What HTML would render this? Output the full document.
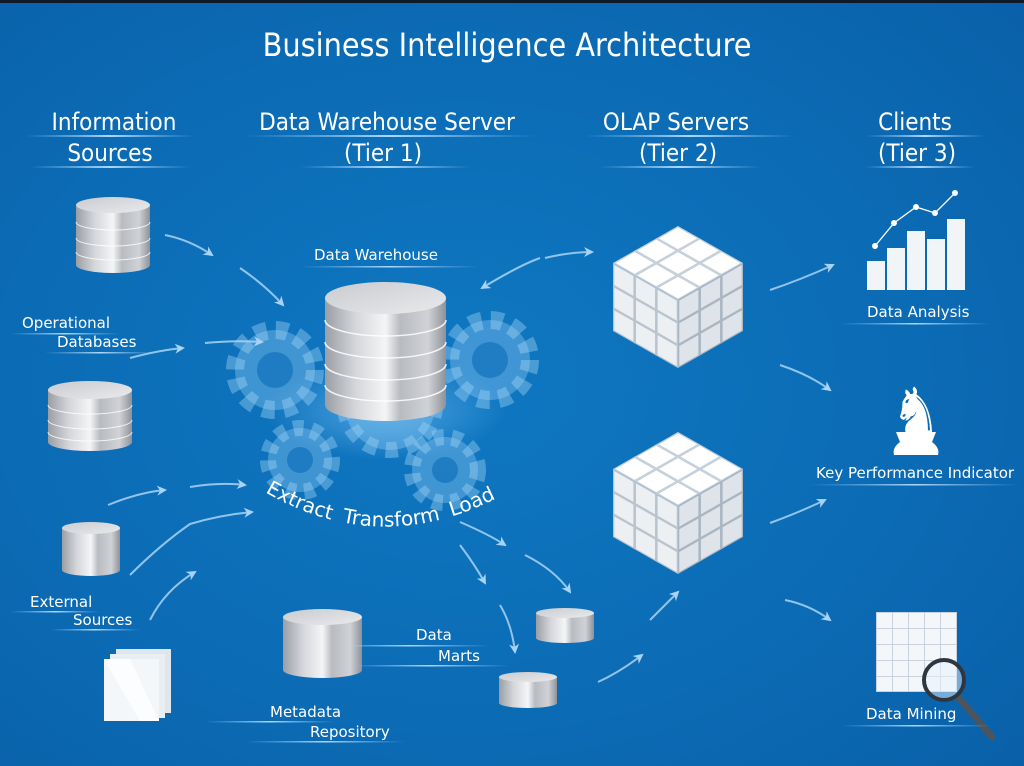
<!DOCTYPE html>
<html><head><meta charset="utf-8"><style>
html,body{margin:0;padding:0;width:1024px;height:766px;overflow:hidden;background:#0a6ab4}
svg{display:block}
text{font-family:"DejaVu Sans Condensed","Liberation Sans",sans-serif;fill:#fff}
.lb text{font-family:"DejaVu Sans","Liberation Sans",sans-serif}
</style></head><body>
<svg width="1024" height="766" viewBox="0 0 1024 766" xmlns="http://www.w3.org/2000/svg">
<defs>
<radialGradient id="bg" cx="0.45" cy="0.5" r="0.75">
<stop offset="0" stop-color="#0f78c2"/><stop offset="0.6" stop-color="#0b6bb4"/><stop offset="1" stop-color="#0a60a8"/>
</radialGradient>
<linearGradient id="sil" x1="0" y1="0" x2="1" y2="0">
<stop offset="0" stop-color="#9a9ea4"/><stop offset="0.25" stop-color="#d4d6da"/><stop offset="0.5" stop-color="#f4f5f6"/><stop offset="0.62" stop-color="#b8bbc0"/><stop offset="0.85" stop-color="#d0d2d6"/><stop offset="1" stop-color="#8e9298"/>
</linearGradient>
<linearGradient id="top" x1="0" y1="0" x2="1" y2="1">
<stop offset="0" stop-color="#c9cbcf"/><stop offset="1" stop-color="#e9eaec"/>
</linearGradient>
<radialGradient id="glow" cx="0.5" cy="0.5" r="0.5">
<stop offset="0" stop-color="#8fd0ff" stop-opacity="0.5"/><stop offset="1" stop-color="#8fd0ff" stop-opacity="0"/>
</radialGradient>
<linearGradient id="ul" x1="0" y1="0" x2="1" y2="0">
<stop offset="0" stop-color="#9fd4ff" stop-opacity="0"/><stop offset="0.5" stop-color="#bfe4ff" stop-opacity="0.9"/><stop offset="1" stop-color="#9fd4ff" stop-opacity="0"/>
</linearGradient>
<marker id="ah" viewBox="0 0 10 10" refX="8" refY="5" markerWidth="5" markerHeight="5" orient="auto">
<path d="M0,0 L10,5 L0,10 L3,5 Z" fill="#a9d3f5"/>
</marker>
</defs>
<rect width="1024" height="766" fill="url(#bg)"/>
<rect width="1024" height="3" fill="#0d1a2a"/>

<!-- Titles -->
<text x="507" y="56" font-size="32" text-anchor="middle">Business Intelligence Architecture</text>
<g font-size="24" text-anchor="middle">
<text x="114" y="130">Information</text><text x="110" y="161">Sources</text>
<text x="387" y="130">Data Warehouse Server</text><text x="383" y="161">(Tier 1)</text>
<text x="676" y="130">OLAP Servers</text><text x="678" y="161">(Tier 2)</text>
<text x="915" y="130">Clients</text><text x="917" y="161">(Tier 3)</text>
</g>
<g fill="url(#ul)">
<rect x="25" y="135" width="170" height="2"/><rect x="30" y="166" width="160" height="2"/>
<rect x="245" y="135" width="290" height="2"/><rect x="300" y="166" width="170" height="2"/>
<rect x="585" y="135" width="210" height="2"/><rect x="600" y="166" width="160" height="2"/>
<rect x="865" y="135" width="120" height="2"/><rect x="865" y="166" width="110" height="2"/>
</g>

<!-- gears -->
<g fill="#8cc8f2" fill-opacity="0.4" stroke="#a6d6f7" stroke-opacity="0.4">
<circle cx="275" cy="370" r="40" stroke-width="18" stroke-dasharray="12 9"/>
<circle cx="490" cy="360" r="40" stroke-width="18" stroke-dasharray="12 9"/>
<circle cx="390" cy="405" r="45" stroke-width="16" stroke-dasharray="12 9"/>
<circle cx="300" cy="460" r="32" stroke-width="16" stroke-dasharray="10 8"/>
<circle cx="445" cy="470" r="33" stroke-width="16" stroke-dasharray="10 8"/>
</g>
<g fill="#0b6db7" fill-opacity="0.6">
<circle cx="275" cy="370" r="18"/><circle cx="490" cy="360" r="18"/>
<circle cx="300" cy="460" r="13"/><circle cx="445" cy="470" r="13"/>
</g>
<ellipse cx="385" cy="410" rx="120" ry="50" fill="url(#glow)"/>

<!-- arrows -->
<g fill="none" stroke="#a9d3f5" stroke-width="2" stroke-opacity="0.85" marker-end="url(#ah)">
<path d="M165,235 Q190,240 212,255"/>
<path d="M240,268 Q265,285 283,305"/>
<path d="M130,358 Q160,350 183,348"/>
<path d="M205,343 Q235,340 262,342"/>
<path d="M108,505 Q140,492 165,490"/>
<path d="M190,487 Q220,482 245,485"/>
<path d="M130,575 Q160,545 190,524 Q220,515 252,512"/>
<path d="M150,620 Q165,590 195,572"/>
<path d="M540,258 Q520,265 482,288"/>
<path d="M545,258 Q570,252 592,252"/>
<path d="M770,290 Q800,280 833,265"/>
<path d="M780,365 Q810,375 830,390"/>
<path d="M770,523 Q800,512 825,500"/>
<path d="M785,600 Q810,605 830,620"/>
<path d="M460,522 Q490,535 505,545"/>
<path d="M460,545 Q475,565 485,583"/>
<path d="M525,555 Q555,570 570,592"/>
<path d="M500,605 Q512,625 515,652"/>
<path d="M598,682 Q620,672 642,655"/>
<path d="M650,620 Q665,605 678,592"/>
</g>

<!-- cylinders -->
<g>
<g><path d="M76,205 L76,265 A37,8 0 0 0 150,265 L150,205 Z" fill="url(#sil)"/>
<ellipse cx="113" cy="205" rx="37" ry="8" fill="url(#top)"/>
<g fill="none" stroke="#fff" stroke-opacity="0.8"><path d="M76,222 A37,8 0 0 0 150,222"/><path d="M76,238 A37,8 0 0 0 150,238"/><path d="M76,252 A37,8 0 0 0 150,252"/></g></g>

<g><path d="M48,390 L48,442 A42,9 0 0 0 132,442 L132,390 Z" fill="url(#sil)"/>
<ellipse cx="90" cy="390" rx="42" ry="9" fill="url(#top)"/>
<g fill="none" stroke="#fff" stroke-opacity="0.8"><path d="M48,405 A42,9 0 0 0 132,405"/><path d="M48,420 A42,9 0 0 0 132,420"/><path d="M48,432 A42,9 0 0 0 132,432"/></g></g>

<g><path d="M62,528 L62,570 A29,6 0 0 0 120,570 L120,528 Z" fill="url(#sil)"/>
<ellipse cx="91" cy="528" rx="29" ry="6" fill="url(#top)"/></g>

<g><path d="M325,298 L325,405 A60.5,16 0 0 0 446,405 L446,298 Z" fill="url(#sil)"/>
<ellipse cx="385.5" cy="298" rx="60.5" ry="16" fill="url(#top)"/>
<g fill="none" stroke="#fff" stroke-opacity="0.85" stroke-width="1.5"><path d="M325,320 A60.5,16 0 0 0 446,320"/><path d="M325,342 A60.5,16 0 0 0 446,342"/><path d="M325,364 A60.5,16 0 0 0 446,364"/><path d="M325,385 A60.5,16 0 0 0 446,385"/></g></g>

<g><path d="M283,617 L283,670 A39.5,8 0 0 0 362,670 L362,617 Z" fill="url(#sil)"/>
<ellipse cx="322.5" cy="617" rx="39.5" ry="8" fill="url(#top)"/></g>

<g><path d="M536,613 L536,638 A29,5 0 0 0 594,638 L594,613 Z" fill="url(#sil)"/>
<ellipse cx="565" cy="613" rx="29" ry="5" fill="url(#top)"/></g>

<g><path d="M499,677 L499,703 A29,5 0 0 0 557,703 L557,677 Z" fill="url(#sil)"/>
<ellipse cx="528" cy="677" rx="29" ry="5" fill="url(#top)"/></g>
</g>

<!-- documents -->
<rect x="116" y="649" width="55" height="64" fill="#dfe6ee"/>
<rect x="110" y="654" width="55" height="64" fill="#e9eef3"/>
<rect x="104" y="659" width="55" height="62" fill="#f4f7fa"/>
<path d="M104,659 L130,659 L159,721 L140,721 Z" fill="#fff" opacity="0.7"/>

<!-- cubes -->
<g id="olap">
<g transform="matrix(21.67,12.33,-21.67,12.33,678,226)">
<rect width="3" height="3" fill="#c5d0da"/>
<g fill="#fff"><rect x="0.06" y="0.06" width="0.88" height="0.88"/><rect x="1.06" y="0.06" width="0.88" height="0.88"/><rect x="2.06" y="0.06" width="0.88" height="0.88"/>
<rect x="0.06" y="1.06" width="0.88" height="0.88"/><rect x="1.06" y="1.06" width="0.88" height="0.88"/><rect x="2.06" y="1.06" width="0.88" height="0.88"/>
<rect x="0.06" y="2.06" width="0.88" height="0.88"/><rect x="1.06" y="2.06" width="0.88" height="0.88"/><rect x="2.06" y="2.06" width="0.88" height="0.88"/></g></g>
<g transform="matrix(21.67,12.33,0,22.67,613,263)">
<rect width="3" height="3" fill="#b9c4cf"/>
<g fill="#edf0f3"><rect x="0.06" y="0.06" width="0.88" height="0.88"/><rect x="1.06" y="0.06" width="0.88" height="0.88"/><rect x="2.06" y="0.06" width="0.88" height="0.88"/>
<rect x="0.06" y="1.06" width="0.88" height="0.88"/><rect x="1.06" y="1.06" width="0.88" height="0.88"/><rect x="2.06" y="1.06" width="0.88" height="0.88"/>
<rect x="0.06" y="2.06" width="0.88" height="0.88"/><rect x="1.06" y="2.06" width="0.88" height="0.88"/><rect x="2.06" y="2.06" width="0.88" height="0.88"/></g></g>
<g transform="matrix(21.67,-12.33,0,22.67,678,300)">
<rect width="3" height="3" fill="#aab6c2"/>
<g fill="#dfe4ea"><rect x="0.06" y="0.06" width="0.88" height="0.88"/><rect x="1.06" y="0.06" width="0.88" height="0.88"/><rect x="2.06" y="0.06" width="0.88" height="0.88"/>
<rect x="0.06" y="1.06" width="0.88" height="0.88"/><rect x="1.06" y="1.06" width="0.88" height="0.88"/><rect x="2.06" y="1.06" width="0.88" height="0.88"/>
<rect x="0.06" y="2.06" width="0.88" height="0.88"/><rect x="1.06" y="2.06" width="0.88" height="0.88"/><rect x="2.06" y="2.06" width="0.88" height="0.88"/></g></g>
</g>
<use href="#olap" transform="translate(0,206)"/>

<!-- Data analysis -->
<g fill="#f2f5f8">
<rect x="867" y="261" width="18" height="29"/><rect x="887" y="248" width="18" height="42"/>
<rect x="907" y="231" width="18" height="59"/><rect x="927" y="239" width="18" height="51"/>
<rect x="947" y="219" width="18" height="71"/>
</g>
<polyline points="875,246 894,223 916,207 935,213 955,193" fill="none" stroke="#fff" stroke-width="1.3"/>
<g fill="#fff"><circle cx="875" cy="246" r="3"/><circle cx="894" cy="223" r="3"/><circle cx="916" cy="207" r="3"/><circle cx="935" cy="213" r="3"/><circle cx="955" cy="193" r="3"/></g>

<!-- KPI knight -->
<text x="916" y="432" font-size="62" text-anchor="middle" font-family="DejaVu Sans,sans-serif">♞</text>
<path d="M896,432 L936,432 L932,442 Q940,448 938,455 L894,455 Q892,448 900,442 Z" fill="#fff"/>

<!-- Data mining grid -->
<rect x="876" y="612" width="81" height="80" fill="#c8d2dc"/>
<g fill="#f4f7fa">
<rect x="877" y="613" width="15" height="15"/><rect x="893" y="613" width="15" height="15"/><rect x="909" y="613" width="15" height="15"/><rect x="925" y="613" width="15" height="15"/><rect x="941" y="613" width="15" height="15"/>
<rect x="877" y="629" width="15" height="15"/><rect x="893" y="629" width="15" height="15"/><rect x="909" y="629" width="15" height="15"/><rect x="925" y="629" width="15" height="15"/><rect x="941" y="629" width="15" height="15"/>
<rect x="877" y="645" width="15" height="15"/><rect x="893" y="645" width="15" height="15"/><rect x="909" y="645" width="15" height="15"/><rect x="925" y="645" width="15" height="15"/><rect x="941" y="645" width="15" height="15"/>
<rect x="877" y="661" width="15" height="15"/><rect x="893" y="661" width="15" height="15"/><rect x="909" y="661" width="15" height="15"/><rect x="925" y="661" width="15" height="15"/><rect x="941" y="661" width="15" height="15"/>
<rect x="877" y="677" width="15" height="14"/><rect x="893" y="677" width="15" height="14"/><rect x="909" y="677" width="15" height="14"/><rect x="925" y="677" width="15" height="14"/><rect x="941" y="677" width="15" height="14"/>
</g>
<line x1="958" y1="697" x2="992" y2="737" stroke="#4a5560" stroke-width="7" stroke-linecap="round"/>
<circle cx="944" cy="680" r="20" fill="#e8f2fb" fill-opacity="0.5" stroke="#2e3640" stroke-width="4"/>

<!-- labels -->
<g class="lb" font-size="15">
<text x="314" y="260">Data Warehouse</text>
<text x="22" y="328">Operational</text><text x="57" y="347">Databases</text>
<text x="30" y="607">External</text><text x="73" y="625">Sources</text>
<text x="270" y="717">Metadata</text><text x="310" y="737">Repository</text>
<text x="416" y="640">Data</text><text x="438" y="661">Marts</text>
<text x="867" y="317">Data Analysis</text>
<text x="816" y="478">Key Performance Indicator</text>
<text x="866" y="719">Data Mining</text>
</g>
<g fill="url(#ul)">
<rect x="300" y="266" width="180" height="1.5"/>
<rect x="10" y="333" width="110" height="1.5"/><rect x="45" y="352" width="110" height="1.5"/>
<rect x="10" y="611" width="90" height="1.5"/><rect x="50" y="629" width="90" height="1.5"/>
<rect x="205" y="721" width="130" height="1.5"/><rect x="245" y="741" width="160" height="1.5"/>
<rect x="330" y="645" width="160" height="1.5"/><rect x="350" y="665" width="160" height="1.5"/>
<rect x="840" y="323" width="150" height="1.5"/><rect x="810" y="484" width="210" height="1.5"/>
<rect x="840" y="725" width="150" height="1.5"/>
</g>

<!-- ETL curved text -->
<path id="etl" d="M265,492 Q390,565 522,484" fill="none"/>
<g class="lb"><text font-size="20" word-spacing="5"><textPath href="#etl">Extract Transform Load</textPath></text></g>
</svg>
</body></html>
